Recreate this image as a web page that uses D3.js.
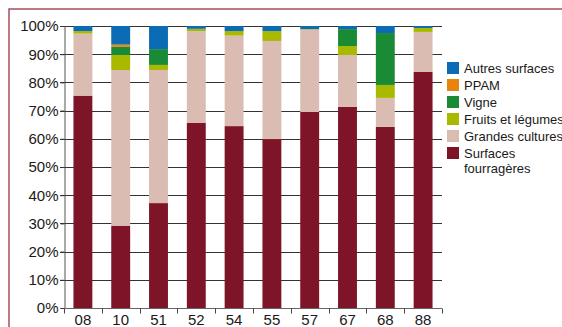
<!DOCTYPE html>
<html>
<head>
<meta charset="utf-8">
<script src="https://cdn.jsdelivr.net/npm/d3@7"></script>
<style>
  body { margin: 0; background: #fff; }
  text { font-family: "Liberation Sans", Arial, sans-serif; fill: #1a1a1a; }
</style>
</head>
<body>
<div id="chart"></div>
<script>
// departements
var categories = ["08", "10", "51", "52", "54", "55", "57", "67", "68", "88"];

// share of surface, in %, from the bottom of each bar up
var fourrageres = [75.3, 29.2, 37.2, 65.6, 64.5, 59.9, 69.5, 71.3, 64.2, 83.8];
var grandesCultures = [22.0, 55.2, 47.2, 32.6, 32.1, 34.8, 29.2, 18.4, 10.3, 14.1];
var fruitsLegumes = [0.9, 5.3, 1.8, 0.8, 1.6, 3.5, 0.2, 3.2, 4.6, 1.4];
var vigne = [0, 2.9, 5.6, 0, 0, 0, 0, 6.0, 18.4, 0];
var ppam = [0, 0.8, 0, 0, 0, 0, 0, 0, 0, 0];
var autres = [1.8, 6.6, 8.2, 1.0, 1.8, 1.8, 1.1, 1.1, 2.5, 0.7];

var seriesNames = ["Surfaces fourragères", "Grandes cultures", "Fruits et légumes", "Vigne", "PPAM", "Autres surfaces"];
var seriesColors = ["#7d1427", "#dbbcb3", "#a8b900", "#1b8a34", "#e8830d", "#0b6cb5"];
var yTicks = [0, 10, 20, 30, 40, 50, 60, 70, 80, 90, 100];

var width = 562, height = 327;
var margin = {top: 26, right: 120, bottom: 19, left: 64};

var svg = d3.select("#chart").append("svg")
    .attr("width", width)
    .attr("height", height);

// frame
svg.append("rect")
    .attr("x", 9).attr("y", 9)
    .attr("width", 600).attr("height", 400)
    .attr("fill", "none")
    .attr("stroke", "#a84d5d")
    .attr("stroke-width", 1.5);

var table = categories.map(function(c, i) {
  return {
    cat: c,
    s0: fourrageres[i], s1: grandesCultures[i], s2: fruitsLegumes[i],
    s3: vigne[i], s4: ppam[i], s5: autres[i]
  };
});
var keys = ["s0", "s1", "s2", "s3", "s4", "s5"];
var stacked = d3.stack().keys(keys)(table);

var x = d3.scaleBand()
    .domain(categories)
    .range([margin.left, width - margin.right])
    .paddingInner(0.5)
    .paddingOuter(0.25);

var y = d3.scaleLinear()
    .domain([0, 100])
    .range([height - margin.bottom, margin.top]);

// grid lines
svg.append("g").selectAll("line")
    .data(yTicks.slice(1))
    .enter().append("line")
    .attr("x1", margin.left - 4)
    .attr("x2", width - margin.right)
    .attr("y1", function(d) { return Math.round(y(d)) + 0.5; })
    .attr("y2", function(d) { return Math.round(y(d)) + 0.5; })
    .attr("stroke", "#333")
    .attr("stroke-width", 1);

// bars
svg.append("g").selectAll("g")
    .data(stacked)
    .enter().append("g")
    .attr("fill", function(d, i) { return seriesColors[i]; })
    .selectAll("rect")
    .data(function(d) { return d; })
    .enter().append("rect")
    .attr("x", function(d) { return x(d.data.cat); })
    .attr("width", x.bandwidth())
    .attr("y", function(d) { return y(d[1]); })
    .attr("height", function(d) { return y(d[0]) - y(d[1]); });

// y axis
var yAxis = svg.append("g")
    .attr("transform", "translate(" + (margin.left + 0.5) + ",0)")
    .call(d3.axisLeft(y).tickValues(yTicks).tickSize(4).tickPadding(2)
      .tickFormat(function(d) { return d + "%"; }));
yAxis.select(".domain").attr("stroke", "#555");
yAxis.selectAll(".tick line").attr("stroke", "#333");
yAxis.selectAll("text").style("font-size", "15px").attr("fill", "#1a1a1a");

// x axis: labels centred, ticks between bars
var step = x.step();
var bottom = y(0);
var xAxis = svg.append("g")
    .attr("transform", "translate(0," + (Math.round(bottom) + 0.5) + ")");
xAxis.append("line")
    .attr("x1", margin.left).attr("x2", width - margin.right)
    .attr("stroke", "#666");
var bounds = categories.map(function(c) { return x(c) - (step - x.bandwidth()) / 2; });
bounds.push(width - margin.right);
xAxis.selectAll(".bt")
    .data(bounds)
    .enter().append("line")
    .attr("x1", function(d) { return Math.round(d) + 0.5; })
    .attr("x2", function(d) { return Math.round(d) + 0.5; })
    .attr("y1", 0).attr("y2", 5)
    .attr("stroke", "#444");
xAxis.selectAll(".lbl")
    .data(categories)
    .enter().append("text")
    .attr("x", function(d) { return x(d) + x.bandwidth() / 2; })
    .attr("y", 16)
    .attr("text-anchor", "middle")
    .style("font-size", "15px")
    .text(function(d) { return d; });

// legend, top entry = last series
var legendOrder = [5, 4, 3, 2, 1, 0];
var legend = svg.append("g").selectAll("g")
    .data(legendOrder)
    .enter().append("g")
    .attr("transform", function(d, i) { return "translate(447," + (62 + i * 17) + ")"; });
legend.append("rect")
    .attr("width", 12).attr("height", 12)
    .attr("fill", function(d) { return seriesColors[d]; });
legend.append("text")
    .attr("x", 17).attr("y", 11)
    .style("font-size", "13px")
    .each(function(d) {
      var words = seriesNames[d] === "Surfaces fourragères" ? ["Surfaces", "fourragères"] : [seriesNames[d]];
      var t = d3.select(this);
      words.forEach(function(w, j) {
        t.append("tspan").attr("x", 17).attr("dy", j ? 15 : 0).text(w);
      });
    });
</script>
</body>
</html>
